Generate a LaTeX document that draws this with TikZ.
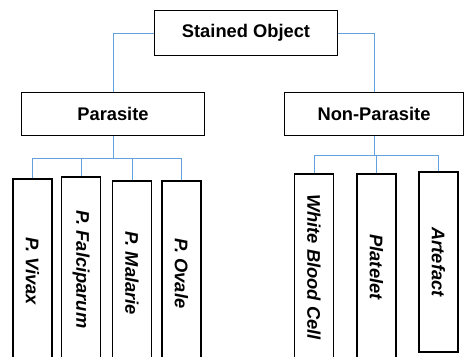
\documentclass[tikz,border=0pt]{standalone}
\usepackage{fontspec}
\setmainfont{Liberation Sans}
\usepackage{graphicx}
\definecolor{linkblue}{RGB}{98,160,222}

\begin{document}
\begin{tikzpicture}[x=1pt,y=-1pt,font=\fontsize{18.3}{22}\selectfont\bfseries,
    box/.style={draw,line width=1.4pt,inner sep=0pt},
    leaf/.style={box,minimum width=39pt,font=\fontsize{18.3}{22}\selectfont\bfseries\itshape},
    link/.style={linkblue,line width=1pt}]
  \useasboundingbox (0,0) rectangle (465,356);

  % top level
  \node[box,minimum width=183pt,minimum height=45pt] (root) at (246,33) {Stained Object};
  \node[box,minimum width=183pt,minimum height=43pt] (para) at (113,114) {Parasite};
  \node[box,minimum width=179pt,minimum height=43pt] (npara) at (374,114) {Non-Parasite};

  \draw[link] (root.west) -| (para.north);
  \draw[link] (root.east) -| (npara.north);

  % parasite species
  \node[leaf,minimum height=185pt] (vivax) at (32.5,271.5) {\rotatebox{-90}{P. Vivax}};
  \node[leaf,minimum height=185pt] (falci) at (81,269.5) {\rotatebox{-90}{P. Falciparum}};
  \node[leaf,minimum height=185pt] (malarie) at (132,273.5) {\rotatebox{-90}{P. Malarie}};
  \node[leaf,minimum height=185pt] (ovale) at (181.5,273.5) {\rotatebox{-90}{P. Ovale}};

  \coordinate (pbus) at (113,158);
  \draw[link] (para.south) -- (pbus);
  \foreach \n in {vivax,falci,malarie,ovale}
    \draw[link] (pbus) -| (\n.north);

  % other objects
  \node[leaf,minimum height=186pt] (wbc) at (314,267) {\rotatebox{-90}{White Blood Cell}};
  \node[leaf,minimum height=186pt] (platelet) at (376.5,267) {\rotatebox{-90}{Platelet}};
  \node[leaf,minimum height=180pt] (artefact) at (438.5,262) {\rotatebox{-90}{Artefact}};

  \coordinate (nbus) at (374,155);
  \draw[link] (npara.south) -- (nbus);
  \foreach \n in {wbc,platelet,artefact}
    \draw[link] (nbus) -| (\n.north);
\end{tikzpicture}
\end{document}
